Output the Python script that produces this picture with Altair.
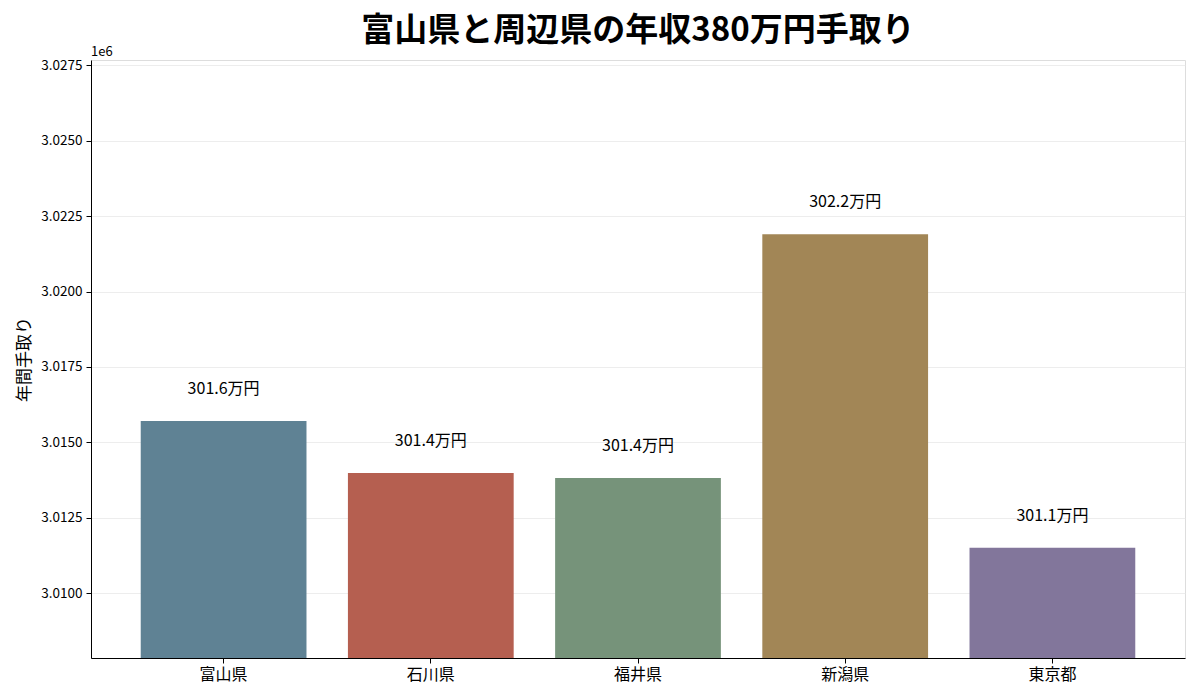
import altair as alt
import pandas as pd

prefs = ["富山県", "石川県", "福井県", "新潟県", "東京都"]
takehome = [3015705, 3013985, 3013818, 3021900, 3011500]
colors = ["#5f8294", "#b55f50", "#76937a", "#a28656", "#82769b"]
y_ticks = [3010000, 3012500, 3015000, 3017500, 3020000, 3022500, 3025000, 3027500]
y_range = [3007848, 3027679]

df = pd.DataFrame({"pref": prefs, "value": takehome})
df["label"] = [f"{v / 10000:.1f}万円" for v in takehome]

font = "Noto Sans CJK JP"

x = alt.X(
    "pref:N",
    sort=prefs,
    title=None,
    scale=alt.Scale(paddingInner=0.2, paddingOuter=0.24),
    axis=alt.Axis(labelAngle=0, labelFontSize=16, labelColor="black", labelFont=font,
                  domainColor="black", tickColor="black", tickSize=5, labelPadding=3),
)
y = alt.Y(
    "value:Q",
    title="年間手取り",
    scale=alt.Scale(domain=y_range, nice=False, zero=False),
    axis=alt.Axis(values=y_ticks, labelExpr="format(datum.value / 1e6, '.4f')",
                  labelFontSize=13.5, labelColor="black", labelFont=font, labelPadding=4,
                  titleFontSize=17, titleFontWeight="normal", titleColor="black", titleFont=font,
                  titlePadding=7, domainColor="black", tickColor="black", tickSize=5,
                  grid=True, gridColor="#e8e8e8", gridWidth=0.8),
)

base = alt.Chart(df)

bars = base.mark_bar(clip=True).encode(
    x=x,
    y=y,
    y2=alt.datum(y_range[0]),
    color=alt.Color("pref:N", scale=alt.Scale(domain=prefs, range=colors), legend=None),
)

labels = base.mark_text(fontSize=16, font=font, color="black", baseline="middle", dy=-32).encode(
    x=alt.X("pref:N", sort=prefs),
    y="value:Q",
    text="label:N",
)

offset_label = base.mark_text(fontSize=13, font=font, color="black", align="left", baseline="bottom").encode(
    x=alt.value(0),
    y=alt.value(-1),
    text=alt.value("1e6"),
).transform_filter(alt.datum.pref == prefs[0])

chart = (
    alt.layer(bars, labels, offset_label)
    .properties(
        width=1094,
        height=598,
        autosize=alt.AutoSizeParams(type="none"),
        padding={"left": 83, "top": 52, "right": 7, "bottom": 34},
        title=alt.TitleParams(
            "富山県と周辺県の年収380万円手取り",
            fontSize=33, fontWeight="bold", font=font, color="black",
            anchor="middle", offset=-2,
        ),
    )
    .configure_view(stroke="black", strokeWidth=1)
    .configure(background="white")
)

chart.save("out.html", embed_options={"renderer": "svg", "actions": False})
